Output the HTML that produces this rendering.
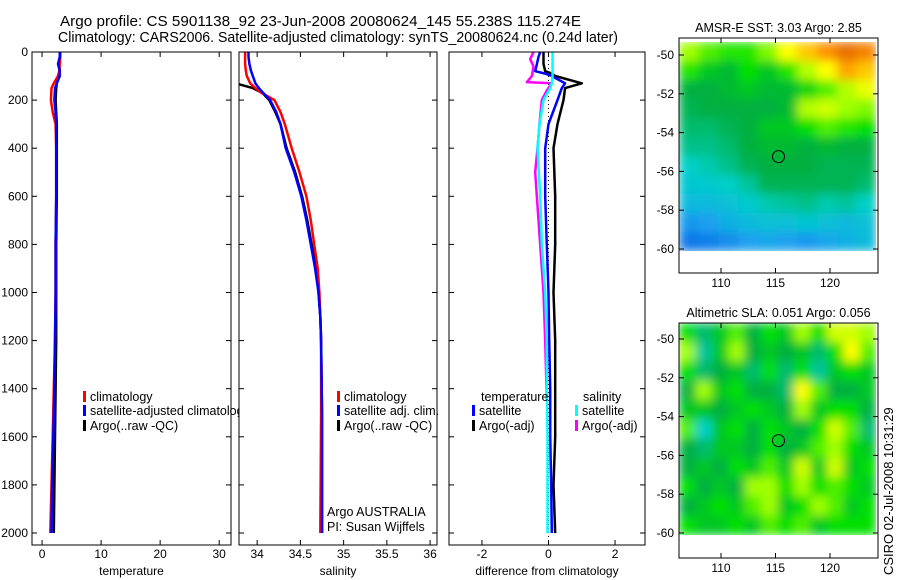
<!DOCTYPE html>
<html><head><meta charset="utf-8"><style>
body{margin:0;background:#fff;}
svg{display:block;font-family:"Liberation Sans",sans-serif;}
</style></head><body>
<svg id="fig" width="900" height="580" viewBox="0 0 900 580">
<defs><filter id="smooth" x="0" y="0" width="1" height="1"><feGaussianBlur stdDeviation="5" edgeMode="duplicate"/></filter></defs>
<text x="60" y="26" font-size="14.5" textLength="521" lengthAdjust="spacingAndGlyphs">Argo profile: CS 5901138_92 23-Jun-2008 20080624_145 55.238S 115.274E</text>
<text x="58" y="42" font-size="14.5" textLength="560" lengthAdjust="spacingAndGlyphs">Climatology: CARS2006. Satellite-adjusted climatology: synTS_20080624.nc (0.24d later)</text>
<text transform="translate(893,575) rotate(-90)" font-size="13">CSIRO 02-Jul-2008 10:31:29</text>
</svg>
<script>
// ---- data ----
const tDepth=[0,20,50,80,100,130,150,200,250,300,400,600,800,1000,1200,1400,1600,1800,2000];
const tClim=[3.1,3.1,3.0,2.9,2.7,2.0,1.6,1.5,1.8,2.3,2.4,2.4,2.3,2.3,2.2,2.0,1.8,1.6,1.4];
const tSat=[3.0,3.0,2.7,3.0,3.0,2.5,2.2,2.1,2.3,2.4,2.4,2.4,2.3,2.3,2.2,2.1,1.9,1.7,1.6];
const tArgo=[3.0,3.0,2.9,3.0,2.9,2.5,2.4,2.3,2.4,2.5,2.5,2.5,2.4,2.4,2.4,2.3,2.2,2.1,2.0];
const sDepth=[0,20,50,80,100,130,150,170,200,250,300,400,500,600,700,800,900,1000,1100,1200,1500,2000];
const sClim=[33.86,33.86,33.86,33.87,33.88,33.92,33.98,34.05,34.20,34.27,34.32,34.40,34.49,34.57,34.62,34.66,34.70,34.72,34.73,34.74,34.74,34.73];
const sSat=[33.90,33.90,33.91,33.93,33.95,33.98,34.02,34.07,34.15,34.22,34.27,34.33,34.43,34.51,34.57,34.62,34.67,34.71,34.73,34.74,34.75,34.75];
const sArgoDepth=[130,140,150,170,200,250,300,400,500,600,700,800,900,1000,1100,1200,1500,2000];
const sArgo=[33.75,33.85,33.95,34.06,34.14,34.21,34.27,34.34,34.44,34.52,34.58,34.63,34.68,34.71,34.73,34.74,34.75,34.75];
const dDepth=[0,20,50,80,90,100,130,150,200,300,400,600,800,1000,1200,1400,1600,1800,2000];
const dArgoT=[-0.15,-0.15,-0.15,-0.1,0.1,0.2,1.0,0.5,0.45,0.27,0.15,0.2,0.2,0.15,0.2,0.2,0.2,0.15,0.2];
const dSatT=[-0.25,-0.3,-0.35,-0.4,-0.1,0.1,0.5,0.4,0.27,0.0,-0.1,-0.1,-0.05,0.0,0.02,0.05,0.05,0.08,0.1];
const dSatS=[0.12,0.12,0.12,0.12,0.12,0.12,0.1,0.05,-0.15,-0.27,-0.33,-0.25,-0.2,-0.1,-0.05,-0.05,-0.03,-0.03,-0.03];
const dArgoSDepth=[0,30,60,100,125,130,160,200,300,400,500,700,1000,1200,1450];
const dArgoS=[-0.45,-0.55,-0.45,-0.5,-0.65,0.1,-0.05,-0.2,-0.27,-0.33,-0.4,-0.3,-0.15,-0.1,-0.05];
const depthTicks=[0,200,400,600,800,1000,1200,1400,1600,1800,2000];
const tTicks=[0,10,20,30];
const sTicks=[34,34.5,35,35.5,36];
const dTicks=[-2,0,2];
const mapLonTicks=[110,115,120];
const mapLatTicks=[-50,-52,-54,-56,-58,-60];
const sstGrid=[
[.70,.65,.62,.62,.68,.80,.85,.90,.95,.92],
[.62,.55,.52,.60,.55,.62,.72,.80,.88,.85],
[.50,.50,.52,.55,.52,.52,.58,.65,.72,.78],
[.48,.50,.50,.50,.50,.52,.72,.75,.70,.68],
[.45,.45,.48,.50,.55,.55,.60,.65,.62,.60],
[.42,.42,.45,.50,.52,.52,.50,.52,.50,.50],
[.35,.38,.42,.48,.50,.50,.50,.48,.48,.48],
[.32,.33,.35,.40,.48,.48,.48,.48,.48,.45],
[.28,.28,.30,.33,.38,.40,.42,.38,.40,.35],
[.18,.20,.25,.28,.30,.30,.32,.30,.28,.30],
[.10,.12,.15,.20,.22,.20,.18,.22,.25,.28]];
const slaGrid=[
[.6,.45,.55,.65,.5,.6,.55,.7,.6,.75,.75,.7],
[.7,.4,.55,.7,.5,.55,.5,.55,.45,.6,.8,.65],
[.6,.45,.5,.55,.45,.6,.45,.6,.4,.55,.6,.55],
[.5,.7,.55,.6,.5,.5,.45,.8,.65,.5,.5,.55],
[.55,.55,.5,.55,.6,.55,.5,.7,.55,.6,.6,.5],
[.65,.35,.55,.6,.5,.6,.55,.5,.6,.75,.65,.45],
[.5,.45,.55,.55,.5,.6,.5,.55,.65,.7,.6,.55],
[.5,.55,.5,.6,.55,.65,.55,.75,.55,.75,.55,.6],
[.6,.5,.55,.5,.7,.7,.6,.7,.6,.65,.6,.55],
[.5,.55,.6,.55,.65,.7,.55,.6,.7,.65,.55,.6],
[.6,.55,.55,.6,.55,.65,.6,.65,.55,.6,.6,.6]];
const floatLon=115.274, floatLat=-55.238;

// ---- drawing ----
const NS='http://www.w3.org/2000/svg';
const svg=document.getElementById('fig');
function mk(tag,attrs,parent){const e=document.createElementNS(NS,tag);for(const k in attrs)e.setAttribute(k,attrs[k]);(parent||svg).appendChild(e);return e;}
const Y0=52, YS=(533-52)/2000, BOT=545;
const yD=d=>Y0+d*YS;

function panel(name,x0,x1,xmin,xmax,ticks,label,showY){
  const xs=v=>x0+(v-xmin)/(xmax-xmin)*(x1-x0);
  const g=mk('g',{});  
  mk('rect',{x:x0,y:Y0,width:x1-x0,height:BOT-Y0,fill:'#fff'},g);
  const cid='clip-'+name; const cp=mk('clipPath',{id:cid},g); mk('rect',{x:x0,y:Y0,width:x1-x0,height:BOT-Y0},cp);
  const plot=mk('g',{'clip-path':'url(#'+cid+')'},g);
  for(const t of ticks){const x=xs(t);
    mk('line',{x1:x,x2:x,y1:Y0,y2:Y0+5,stroke:'#000'},g);mk('line',{x1:x,x2:x,y1:BOT,y2:BOT-5,stroke:'#000'},g);
    const tx=mk('text',{x:x,y:558,'font-size':12,'text-anchor':'middle'},g);tx.textContent=t;
    
    }
  for(const d of depthTicks){const y=yD(d);
    mk('line',{x1:x0,x2:x0+5,y1:y,y2:y,stroke:'#000'},g);mk('line',{x1:x1,x2:x1-5,y1:y,y2:y,stroke:'#000'},g);
    if(showY){const tx=mk('text',{x:28,y:y+4,'font-size':12,'text-anchor':'end'},g);tx.textContent=d;
      
      }}
  const xl=mk('text',{x:(x0+x1)/2,y:575,'font-size':12,'text-anchor':'middle'},g);xl.textContent=label;
  
  
  mk('rect',{x:x0,y:Y0,width:x1-x0,height:BOT-Y0,fill:'none',stroke:'#000','stroke-width':1},g);
  return {xs,plot,g};
}
function line(p,depths,vals,color,name,w,dash){
  const pts=vals.map((v,i)=>p.xs(v).toFixed(1)+','+yD(depths[i]).toFixed(1)).join(' ');
  const e=mk('polyline',{points:pts,fill:'none',stroke:color,'stroke-width':w||2.5,'stroke-linejoin':'round'},p.plot);
  if(dash)e.setAttribute('stroke-dasharray',dash);
  
  
}
function legend(g,x,y,color,text,name){
  mk('rect',{x:x,y:y-7,width:3,height:11,fill:color},g);
  const t=mk('text',{x:x+7,y:y+3,'font-size':12.5},g);t.textContent=text;
  
  
}

const p1=panel('temperature',32,231,-1.7,32,tTicks,'temperature',true);
line(p1,tDepth,tArgo,'#000','temp-argo-line');
line(p1,tDepth,tClim,'#f00','temp-climatology-line');
line(p1,tDepth,tSat,'#00f','temp-satellite-line');
legend(svg,83,398,'#f00','climatology','temp-legend-climatology');
legend(svg,83,412,'#00f','satellite-adjusted climatology','temp-legend-satellite');
legend(svg,83,427,'#000','Argo(..raw -QC)','temp-legend-argo');

const p2=panel('salinity',239,437,33.79,36.08,sTicks,'salinity',false);
line(p2,sArgoDepth,sArgo,'#000','sal-argo-line');
line(p2,sDepth,sClim,'#f00','sal-climatology-line');
line(p2,sDepth,sSat,'#00f','sal-satellite-line');
legend(p2.g,337,398,'#f00','climatology','sal-legend-climatology');
legend(p2.g,337,412,'#00f','satellite adj. clim.','sal-legend-satellite');
legend(p2.g,337,427,'#000','Argo(..raw -QC)','sal-legend-argo');
const a1=mk('text',{x:327,y:516,'font-size':12.5},p2.g);a1.textContent='Argo AUSTRALIA';


const a2=mk('text',{x:327,y:531,'font-size':12.5},p2.g);a2.textContent='PI: Susan Wijffels';



const p3=panel('difference',449,645,-2.99,2.9,dTicks,'difference from climatology',false);
mk('line',{x1:p3.xs(0),x2:p3.xs(0),y1:Y0,y2:BOT,stroke:'#000','stroke-dasharray':'1,3'},p3.plot);
line(p3,dDepth,dArgoT,'#000','diff-temp-argo-line');
line(p3,dDepth,dSatT,'#00f','diff-temp-satellite-line');
line(p3,dArgoSDepth,dArgoS,'#f0f','diff-sal-argo-line');
line(p3,dDepth,dSatS,'#0ff','diff-sal-satellite-line');
const lt=mk('text',{x:481,y:401,'font-size':12.5},p3.g);lt.textContent='temperature';


const ls=mk('text',{x:583,y:401,'font-size':12.5},p3.g);ls.textContent='salinity';


legend(p3.g,472,412,'#00f','satellite','diff-legend-temp-satellite');
legend(p3.g,472,427,'#000','Argo(-adj)','diff-legend-temp-argo');
legend(p3.g,575,412,'#0ff','satellite','diff-legend-sal-satellite');
legend(p3.g,575,427,'#f0f','Argo(-adj)','diff-legend-sal-argo');

// maps
const stops=[[0,[0,80,224]],[0.2,[26,160,240]],[0.35,[0,208,200]],[0.5,[0,176,64]],[0.6,[0,224,0]],[0.7,[160,255,0]],[0.8,[255,255,0]],[0.9,[255,144,0]],[1,[208,80,0]]];
function cmap(v){v=Math.max(0,Math.min(1,v));for(let i=1;i<stops.length;i++){if(v<=stops[i][0]){const a=stops[i-1],b=stops[i],f=(v-a[0])/(b[0]-a[0]);return 'rgb('+a[1].map((c,k)=>Math.round(c+(b[1][k]-c)*f)).join(',')+')';}}return 'rgb(208,80,0)';}
function map(name,title,top,yFillTop,lat50,grid){
  const X0=679,X1=878,BT=top+235;
  const lonX=l=>721+(l-110)*10.9;
  const latY=l=>lat50+(-50-l)*19.4;
  const g=mk('g',{});
  const tt=mk('text',{x:(X0+X1)/2,y:top-6,'font-size':12.5,'text-anchor':'middle'},g);tt.textContent=title;
  
  
  const fillBot=latY(-60.1), rows=grid.length, cols=grid[0].length;
  const ch=(fillBot-yFillTop)/rows, cw=(876-X0)/cols;
  const cid='mclip-'+name; const cp=mk('clipPath',{id:cid},g); mk('rect',{x:X0,y:yFillTop,width:876-X0,height:fillBot-yFillTop},cp);
  const outer=mk('g',{'clip-path':'url(#'+cid+')'},g);
  const cells=mk('g',{filter:'url(#smooth)'},outer);
  grid.forEach((row,r)=>row.forEach((v,c)=>{
    const e=mk('rect',{x:(X0+c*cw).toFixed(2),y:(yFillTop+r*ch).toFixed(2),width:(cw+0.6).toFixed(2),height:(ch+0.6).toFixed(2),fill:cmap(v)},cells);
    
    
  }));
  for(const l of mapLonTicks){const x=lonX(l);
    mk('line',{x1:x,x2:x,y1:top,y2:top+5,stroke:'#000'},g);mk('line',{x1:x,x2:x,y1:BT,y2:BT-5,stroke:'#000'},g);
    const tx=mk('text',{x:x,y:BT+14,'font-size':12,'text-anchor':'middle'},g);tx.textContent=l;
    
    }
  for(const l of mapLatTicks){const y=latY(l);
    mk('line',{x1:X0,x2:X0+5,y1:y,y2:y,stroke:'#000'},g);mk('line',{x1:X1,x2:X1-5,y1:y,y2:y,stroke:'#000'},g);
    const tx=mk('text',{x:674,y:y+4,'font-size':12,'text-anchor':'end'},g);tx.textContent=l;
    
    }
  mk('rect',{x:X0,y:top,width:X1-X0,height:BT-top,fill:'none',stroke:'#000'},g);
  const c=mk('circle',{cx:lonX(floatLon),cy:latY(floatLat),r:6,fill:'none',stroke:'#000','stroke-width':1},g);
  
  
}
map('sst','AMSR-E SST: 3.03 Argo: 2.85',38,42,55,sstGrid);
map('sla','Altimetric SLA: 0.051 Argo: 0.056',323,323,339,slaGrid);
</script>
</body></html>
